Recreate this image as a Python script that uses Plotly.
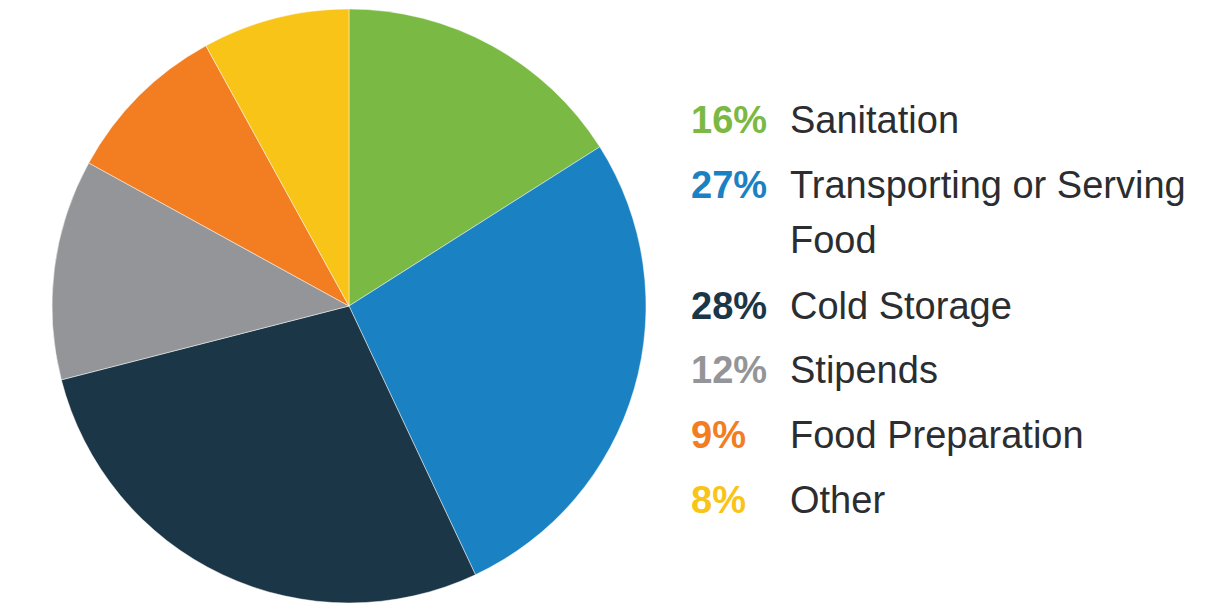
import plotly.graph_objects as go

categories = ["Sanitation", "Transporting or Serving Food", "Cold Storage", "Stipends", "Food Preparation", "Other"]
values = [16, 27, 28, 12, 9, 8]
colors = ["#7AB943", "#1A82C2", "#1B3647", "#939598", "#F37E21", "#F7C417"]
label_lines = [["Sanitation"], ["Transporting or Serving", "Food"], ["Cold Storage"], ["Stipends"], ["Food Preparation"], ["Other"]]

W, H = 1205, 607
FONT = "Liberation Sans, Arial, sans-serif"

fig = go.Figure()
fig.add_trace(go.Pie(
    labels=categories,
    values=values,
    sort=False,
    direction="clockwise",
    rotation=0,
    marker=dict(colors=colors, line=dict(color="rgba(255,255,255,0.6)", width=0.8)),
    textinfo="none",
    hoverinfo="label+percent",
    showlegend=False,
    domain=dict(x=[52 / W, 646 / W], y=[4 / H, 598 / H]),
))

# legend rows (baseline pixel positions)
row_baselines = [132, 197, 318, 382, 447, 512]
wrap_gap = 55
annotations = []
fs = 38
for i, (v, lines) in enumerate(zip(values, label_lines)):
    base = row_baselines[i]
    yc = base - 12
    annotations.append(dict(
        x=689 / W, y=1 - yc / H, xref="paper", yref="paper",
        xanchor="left", yanchor="middle", showarrow=False,
        text=f"<b>{v}%</b>", font=dict(family=FONT, size=fs, color=colors[i]),
    ))
    for j, ln in enumerate(lines):
        ycj = yc + j * wrap_gap
        annotations.append(dict(
            x=788 / W, y=1 - ycj / H, xref="paper", yref="paper",
            xanchor="left", yanchor="middle", showarrow=False,
            text=ln, font=dict(family=FONT, size=fs, color="#2B2D31"),
        ))

fig.update_layout(
    width=W, height=H,
    margin=dict(l=0, r=0, t=0, b=0),
    paper_bgcolor="white", plot_bgcolor="white",
    annotations=annotations,
)

fig.write_html("out.html", config={"displayModeBar": False},
               post_script="document.body.style.margin='0';")
